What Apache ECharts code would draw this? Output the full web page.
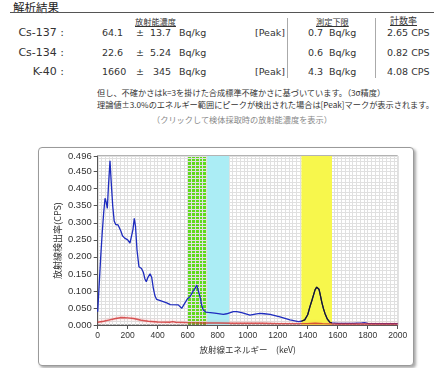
<!DOCTYPE html>
<html><head><meta charset="utf-8">
<script src="https://cdn.jsdelivr.net/npm/echarts@6/dist/echarts.min.js"></script>
<style>
html,body{margin:0;padding:0;background:#fff;width:434px;height:368px;overflow:hidden;}
.t{position:absolute;white-space:nowrap;font-family:"DejaVu Sans","Noto Sans CJK JP",sans-serif;color:#333;line-height:14px;height:14px;}
.j{font-family:"Noto Sans CJK JP","DejaVu Sans",sans-serif;}
.v{font-size:9.5px;}
.lab{font-size:11px;width:64px;left:0;text-align:right;}
.vl{position:absolute;width:1px;background:#aaa;top:18px;height:60px;}
#frame{position:absolute;left:38px;top:147px;width:374px;height:217px;border:1px solid #9a9a9a;border-radius:4px;box-shadow:2px 2px 3px rgba(0,0,0,0.35);background:#fff;}
#chart{position:absolute;left:0;top:0;width:434px;height:368px;}
</style></head>
<body>
<div class="t j" style="left:13px;top:0px;font-size:11.5px;color:#222;">解析結果</div>
<div style="position:absolute;left:10px;right:0;top:12px;height:1px;background:#555;"></div>

<div class="t j" style="left:135px;top:14px;font-size:8.2px;text-decoration:underline;">放射能濃度</div>
<div class="t j" style="left:316px;top:14px;font-size:8.2px;text-decoration:underline;">測定下限</div>
<div class="t j" style="left:390px;top:14px;font-size:9px;text-decoration:underline;">計数率</div>
<div class="vl" style="left:287px;"></div>
<div class="vl" style="left:375px;"></div>

<div class="t lab" style="top:26px;">Cs-137 :</div>
<div class="t v" style="left:102px;top:26px;">64.1</div>
<div class="t v" style="left:136px;top:26px;">±</div>
<div class="t v" style="left:150px;top:26px;">13.7</div>
<div class="t v" style="left:179px;top:26px;">Bq/kg</div>
<div class="t v" style="left:255px;top:26px;">[Peak]</div>
<div class="t v" style="left:308px;top:26px;">0.7</div>
<div class="t v" style="left:329px;top:26px;">Bq/kg</div>
<div class="t v" style="left:387px;top:26px;">2.65 CPS</div>

<div class="t lab" style="top:46px;">Cs-134 :</div>
<div class="t v" style="left:102px;top:46px;">22.6</div>
<div class="t v" style="left:136px;top:46px;">±</div>
<div class="t v" style="left:150px;top:46px;">5.24</div>
<div class="t v" style="left:179px;top:46px;">Bq/kg</div>
<div class="t v" style="left:308px;top:46px;">0.6</div>
<div class="t v" style="left:329px;top:46px;">Bq/kg</div>
<div class="t v" style="left:387px;top:46px;">0.82 CPS</div>

<div class="t lab" style="top:65px;">K-40 :</div>
<div class="t v" style="left:102px;top:65px;">1660</div>
<div class="t v" style="left:136px;top:65px;">±</div>
<div class="t v" style="left:153px;top:65px;">345</div>
<div class="t v" style="left:179px;top:65px;">Bq/kg</div>
<div class="t v" style="left:255px;top:65px;">[Peak]</div>
<div class="t v" style="left:308px;top:65px;">4.3</div>
<div class="t v" style="left:329px;top:65px;">Bq/kg</div>
<div class="t v" style="left:387px;top:65px;">4.08 CPS</div>

<div class="t j" style="left:97px;top:85px;font-size:8.2px;">但し、不確かさはk=3を掛けた合成標準不確かさに基づいています。（3σ精度）</div>
<div class="t j" style="left:97px;top:97px;font-size:8.2px;">理論値±3.0%のエネルギー範囲にピークが検出された場合は[Peak]マークが表示されます。</div>
<div class="t j" style="left:0;width:484px;text-align:center;top:112px;font-size:8.2px;color:#888;">（クリックして検体採取時の放射能濃度を表示）</div>

<div id="frame"></div>
<div id="chart"></div>
<script>
// energy (keV), count rate (CPS)
const spectrum = [
 [0,0.039],[10,0.12],[20,0.2],[30,0.27],[40,0.33],[49,0.372],[57,0.36],[64,0.342],[72,0.41],[82,0.482],
 [90,0.42],[100,0.35],[110,0.305],[120,0.295],[135,0.294],[145,0.29],[155,0.275],[165,0.262],[180,0.255],
 [200,0.25],[215,0.24],[225,0.245],[235,0.28],[244,0.313],[252,0.29],[262,0.22],[275,0.171],[292,0.166],
 [304,0.155],[315,0.135],[324,0.127],[335,0.14],[349,0.15],[360,0.14],[370,0.11],[382,0.085],[393,0.075],
 [427,0.07],[460,0.065],[484,0.06],[537,0.059],[560,0.049],[573,0.05],[582,0.065],[600,0.078],[615,0.083],
 [637,0.1],[650,0.108],[660,0.117],[668,0.112],[682,0.083],[695,0.055],[704,0.044],[720,0.038],[737,0.037],
 [780,0.035],[838,0.031],[860,0.033],[904,0.039],[927,0.039],[960,0.036],[1015,0.029],[1050,0.032],
 [1082,0.034],[1110,0.033],[1149,0.031],[1215,0.024],[1282,0.015],[1338,0.010],[1358,0.011],
 [1380,0.015],[1400,0.03],[1415,0.054],[1430,0.075],[1449,0.103],[1460,0.111],[1467,0.112],[1475,0.105],
 [1482,0.092],[1495,0.065],[1505,0.048],[1515,0.034],[1530,0.018],[1548,0.008],[1562,0.006],
 [1600,0.005],[1700,0.005],[1760,0.006],[1780,0.007],[1800,0.005],[1900,0.004],[2000,0.004]
];
const background = [
 [0,0.008],[40,0.011],[80,0.015],[120,0.019],[160,0.022],[200,0.021],[240,0.019],[290,0.014],[337,0.011],
 [400,0.009],[480,0.008],[500,0.010],[520,0.008],[600,0.007],[700,0.006],[800,0.006],[900,0.005],
 [1000,0.005],[1100,0.005],[1200,0.004],[1300,0.004],[1400,0.004],[1450,0.005],[1500,0.004],[1600,0.003],
 [1700,0.003],[1800,0.003],[1900,0.003],[2000,0.003]
];
// ROI bands: [from keV, to keV, colour]; the Cs-137 band lies under the grid, the others over it
const bandsUnderGrid = [[596,730,'#5fda1c']];
const bandsOverGrid = [[730,876,'#abedf5'],[1358,1562,'#f7f74c']];
const peakRange = [1358,1562];
const xTicks = {min:0,max:2000,interval:200};
const yTicks = {min:0,max:0.496,interval:0.05};

const chart = echarts.init(document.getElementById('chart'));
const grey = '#e0e0e0';
const areaOf = list => list.map(b=>[{xAxis:b[0],itemStyle:{color:b[2],opacity:1}},{xAxis:b[1]}]);
chart.setOption({
  animation:false,
  grid:{left:97.7,right:36.3,top:156,bottom:43,show:true,borderColor:'#666',borderWidth:1,z:1},
  xAxis:{type:'value',min:xTicks.min,max:xTicks.max,interval:xTicks.interval,z:1,
    name:'放射線エネルギー　(keV)',nameLocation:'middle',nameGap:21,nameMoveOverlap:false,
    nameTextStyle:{fontFamily:'Noto Sans CJK JP',fontSize:8.5,color:'#333'},
    axisLine:{lineStyle:{color:'#555'}},axisTick:{length:4,lineStyle:{color:'#555'}},
    axisLabel:{fontFamily:'Liberation Sans',fontSize:8.5,color:'#333',margin:6,formatter:v=>String(v)},
    splitLine:{show:true,lineStyle:{color:grey,width:1}},
    minorTick:{show:false,splitNumber:8},
    minorSplitLine:{show:true,lineStyle:{color:grey,width:1}}},
  yAxis:{type:'value',min:yTicks.min,max:yTicks.max,interval:yTicks.interval,z:1,
    name:'放射線検出率(CPS)',nameLocation:'middle',nameGap:36,nameMoveOverlap:false,
    nameTextStyle:{fontFamily:'Noto Sans CJK JP',fontSize:9,color:'#333'},
    axisLine:{show:true,lineStyle:{color:'#555'}},axisTick:{show:true,length:4,lineStyle:{color:'#555'}},
    axisLabel:{fontFamily:'Liberation Sans',fontSize:9.5,color:'#333',margin:6,formatter:v=>v.toFixed(3)},
    splitLine:{show:true,lineStyle:{color:grey,width:1}},
    minorTick:{show:false,splitNumber:5},
    minorSplitLine:{show:true,lineStyle:{color:grey,width:1}}},
  series:[
    {type:'line',data:[],z:0,silent:true,markArea:{silent:true,z:0.5,data:areaOf(bandsUnderGrid)}},
    {type:'line',data:[],z:0,silent:true,markArea:{silent:true,z:1.5,data:areaOf(bandsOverGrid)}},
    {type:'line',data:spectrum,symbol:'none',z:2,lineStyle:{color:'#1e2cbe',width:1.3},silent:true},
    {type:'line',data:spectrum.filter(p=>p[0]>=peakRange[0]&&p[0]<=peakRange[1]),symbol:'none',z:3,
     lineStyle:{color:'#1a1a1a',width:1.2},silent:true},
    {type:'line',data:background,symbol:'none',z:4,silent:true,
     lineStyle:{color:'rgba(205,40,40,0.75)',width:1.4,shadowBlur:3,shadowColor:'rgba(255,90,90,0.6)'}}
  ]
});
</script>
</body></html>
